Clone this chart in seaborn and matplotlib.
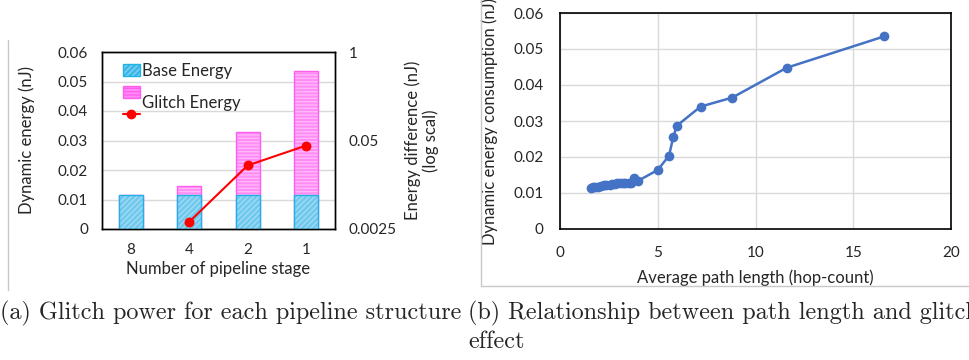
import numpy as np
import pandas as pd
import matplotlib.pyplot as plt
from matplotlib.patches import Patch, Rectangle
from matplotlib.lines import Line2D
import seaborn as sns

# (a) pipeline structure
stages = ["8", "4", "2", "1"]
base_energy = [0.0115, 0.0115, 0.0115, 0.0115]
total_energy = [0.0115, 0.0147, 0.0330, 0.0535]
glitch_diff = [np.nan, 0.0032, 0.0215, 0.0420]

# (b) path length vs energy
path_length = [1.57, 1.69, 1.81, 1.95, 2.12, 2.24, 2.37, 2.54, 2.68, 2.80,
               2.94, 3.06, 3.20, 3.35, 3.52, 3.65, 3.76, 4.00,
               5.00, 5.58, 5.79, 5.98, 7.19, 8.81, 11.6, 16.58]
dyn_energy = [0.0114, 0.0116, 0.0117, 0.0118, 0.0120, 0.0122, 0.0122, 0.0122, 0.0124, 0.0125,
              0.0128, 0.0128, 0.0128, 0.0128, 0.0128, 0.0129, 0.0141, 0.0134,
              0.0164, 0.0204, 0.0255, 0.0287, 0.0340, 0.0365, 0.0448, 0.0535]

BLUE_FILL, BLUE_HATCH, BLUE_EDGE = "#6fc8ee", "#a2dbf3", "#1fb2e6"
PINK_FILL, PINK_HATCH, PINK_EDGE = "#ff8cf5", "#ffb8fa", "#ff5cf0"
GRID = "#d9d9d9"
W, H = 969, 360
LABEL_SIZE = 12


def hatch_bars(ax, start, fill, hatch_col, hatch):
	for p in ax.patches[start:]:
		p.set_facecolor(fill)
		p.set_edgecolor(hatch_col)
		p.set_hatch(hatch)
		p.set_linewidth(0)


def glitch_chart(fig):
	df = pd.DataFrame({"stage": stages, "base": base_energy,
					   "total": total_energy, "glitch": glitch_diff})
	ax = fig.add_axes([102 / W, 131 / H, 233 / W, 177 / H])
	n = len(ax.patches)
	sns.barplot(data=df, x="stage", y="total", order=stages, width=0.41,
				color=PINK_FILL, saturation=1, ax=ax, zorder=2)
	hatch_bars(ax, n, PINK_FILL, PINK_HATCH, "-----")
	sns.barplot(data=df, x="stage", y="total", order=stages, width=0.41,
				color=PINK_EDGE, fill=False, saturation=1, linewidth=1, ax=ax, zorder=3)
	n = len(ax.patches)
	sns.barplot(data=df, x="stage", y="base", order=stages, width=0.41,
				color=BLUE_FILL, saturation=1, ax=ax, zorder=4)
	hatch_bars(ax, n, BLUE_FILL, BLUE_HATCH, "//////")
	sns.barplot(data=df, x="stage", y="base", order=stages, width=0.41,
				color=BLUE_EDGE, fill=False, saturation=1, linewidth=1, ax=ax, zorder=5)

	ax.set_ylim(0, 0.06)
	ax.set_yticks([0, 0.01, 0.02, 0.03, 0.04, 0.05, 0.06])
	ax.set_yticklabels(["0", "0.01", "0.02", "0.03", "0.04", "0.05", "0.06"])
	ax.yaxis.grid(True, color=GRID, lw=1, zorder=0)
	ax.set_axisbelow(True)
	ax.tick_params(length=0, pad=10)
	ax.set_ylabel("Dynamic energy (nJ)", fontsize=LABEL_SIZE)
	ax.yaxis.set_label_coords(-0.288, 0.5)
	ax.set_xlabel("Number of pipeline stage", fontsize=LABEL_SIZE)
	ax.xaxis.set_label_coords(0.5, -0.18)

	ax2 = ax.twinx()
	ax2.set_yscale("log")
	sns.pointplot(data=df, x="stage", y="glitch", order=stages, color="red",
				  errorbar=None, markers="o", markersize=6, linewidth=1.5, ax=ax2)
	ax2.set_ylim(0.0025, 1)
	ax2.set_yticks([0.0025, 0.05, 1])
	ax2.set_yticklabels(["0.0025", "0.05", "1"])
	ax2.minorticks_off()
	ax2.tick_params(length=0, pad=10)
	ax2.set_ylabel("Energy difference (nJ)\n(log scal)", fontsize=LABEL_SIZE, linespacing=1.05)
	ax2.yaxis.set_label_coords(1.30, 0.5)
	ax.set_xlim(-0.5, 3.5)
	for a in (ax, ax2):
		for s in a.spines.values():
			s.set_color("black")
			s.set_linewidth(1)

	handles = [
		Patch(facecolor=BLUE_FILL, edgecolor=BLUE_EDGE, hatch="//////", lw=1),
		Patch(facecolor=PINK_FILL, edgecolor=PINK_EDGE, hatch="-----", lw=1),
		Line2D([], [], color="red", marker="o", markersize=6, lw=1.5),
	]
	leg = ax.legend(handles, ["Base Energy", " ", " "], loc="upper left",
					bbox_to_anchor=(0.055, 0.985), frameon=False, handlelength=1.0,
					handleheight=0.7, handletextpad=0.15, labelspacing=0.35, borderpad=0,
					fontsize=LABEL_SIZE)
	leg.set_zorder(10)
	ax.text(0.172, 0.712, "Glitch Energy", transform=ax.transAxes, fontsize=LABEL_SIZE,
			va="center", ha="left", zorder=10)


def path_chart(fig):
	ax = fig.add_axes([560 / W, 131 / H, 391 / W, 216 / H])
	sns.lineplot(x=path_length, y=dyn_energy, sort=False, color="#4472c4",
				 marker="o", markersize=7, markeredgewidth=0, lw=1.8, ax=ax)
	ax.set_xlim(0, 20)
	ax.set_ylim(0, 0.06)
	ax.set_xticks([0, 5, 10, 15, 20])
	ax.set_yticks([0, 0.01, 0.02, 0.03, 0.04, 0.05, 0.06])
	ax.set_yticklabels(["0", "0.01", "0.02", "0.03", "0.04", "0.05", "0.06"])
	ax.grid(True, color=GRID, lw=1)
	ax.set_axisbelow(True)
	ax.tick_params(length=0, pad=12)
	ax.set_xlabel("Average path length (hop-count)", fontsize=LABEL_SIZE)
	ax.xaxis.set_label_coords(0.5, -0.185)
	ax.set_ylabel("Dynamic energy consumption (nJ)", fontsize=LABEL_SIZE)
	ax.yaxis.set_label_coords(-0.159, 0.5)
	for s in ax.spines.values():
		s.set_color("black")
		s.set_linewidth(1.2)


def main():
	sns.set_theme(style="white")
	plt.rcParams["font.family"] = ["Lato", "DejaVu Sans"]
	plt.rcParams["font.size"] = 11
	plt.rcParams["hatch.linewidth"] = 1.0
	fig = plt.figure(figsize=(W / 100, H / 100), dpi=100)

	glitch_chart(fig)
	path_chart(fig)

	# panel borders
	fig.add_artist(Line2D([8 / W, 8 / W], [1 - 40 / H, 1 - 290 / H], color="#c8c8c8", lw=1))
	fig.add_artist(Rectangle((481 / W, 1 - 286 / H), 1, 290 / H, fill=False,
							 edgecolor="#c8c8c8", lw=1))

	cap = dict(family=["cmr10", "DejaVu Serif"], fontsize=17.4, va="center", ha="left")
	fig.text(0, 1 - 313 / H, "(a) Glitch power for each pipeline structure", **cap)
	fig.text(468 / W, 1 - 313 / H, "(b) Relationship between path length and glitch", **cap)
	fig.text(468 / W, 1 - 342 / H, "effect", **cap)

	fig.savefig("out.png", dpi=100)
	plt.close(fig)


if __name__ == "__main__":
	main()
